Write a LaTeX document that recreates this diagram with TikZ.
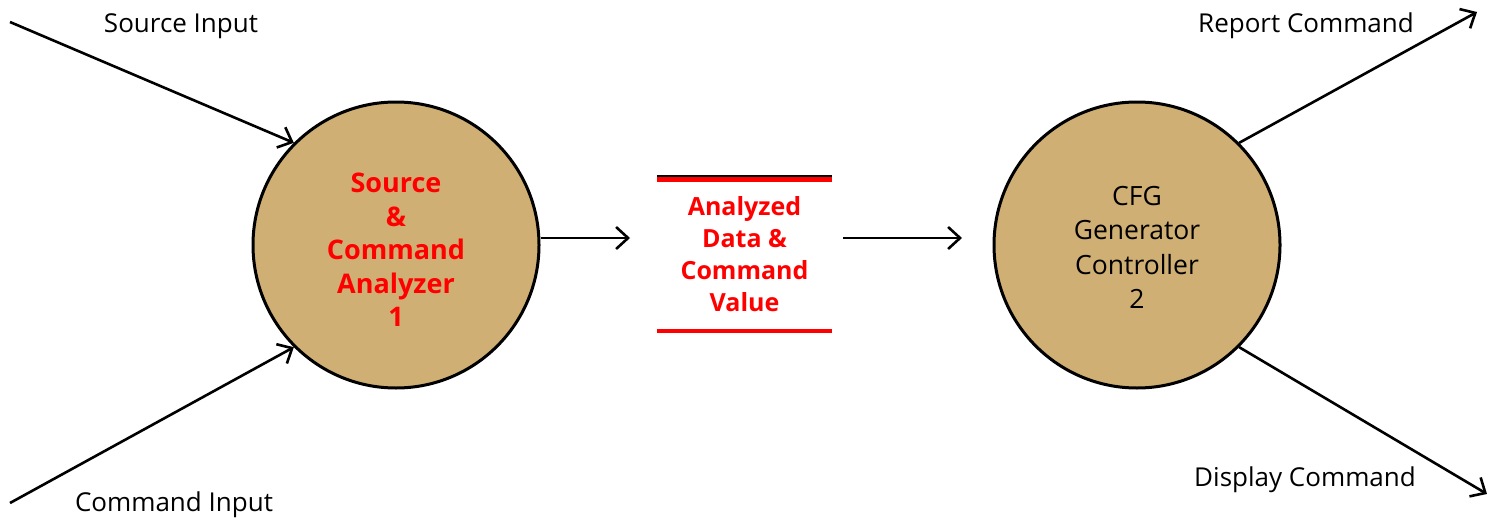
\documentclass[tikz,border=0pt]{standalone}
\usepackage{fontspec}
\setmainfont{Open Sans}
\usetikzlibrary{arrows.meta}
\definecolor{procfill}{RGB}{207,175,115}
\definecolor{hotred}{RGB}{255,0,0}
\begin{document}
\begin{tikzpicture}[x=1pt,y=-1pt,
  flow/.style={line width=2.6pt,-{Straight Barb[length=12pt,width=22pt,line width=2.6pt]}},
  process/.style={circle,draw=black,line width=3pt,fill=procfill,minimum size=286pt,inner sep=0pt},
  proclabel/.style={align=center,font=\fontsize{26.5}{34.5}\selectfont},
  hotlabel/.style={align=center,text=hotred,font=\bfseries\fontsize{27}{33.5}\selectfont},
  extlabel/.style={font=\fontsize{26}{30}\selectfont}]
\useasboundingbox (0,0) rectangle (1487,519);

% processes
\node[process] (c1) at (396,245) {};
\node[hotlabel] (t1) at (396,250) {Source\\\&\\Command\\Analyzer\\1};
\node[process] (c2) at (1137,245) {};
\node[proclabel] (t2) at (1137,247.5) {CFG\\Generator\\Controller\\2};

% data store
\node[minimum width=175pt,minimum height=153pt,inner sep=0pt] (ds) at (744.5,254.5) {};
\node[hotlabel,font=\bfseries\fontsize{25}{32}\selectfont] (dst) at (ds.center) {Analyzed\\Data \&\\Command\\Value};
\draw[line width=1.8pt] ([yshift=1.6pt]ds.north west) -- ([yshift=1.6pt]ds.north east);
\draw[hotred,line width=4.5pt] ([yshift=-1.6pt]ds.north west) -- ([yshift=-1.6pt]ds.north east);
\draw[hotred,line width=4.5pt] (ds.south west) -- (ds.south east);

% external ends
\coordinate (srcin) at (10,22);
\coordinate (cmdin) at (10,503);
\coordinate (repout) at (1477,12);
\coordinate (dispout) at (1487,494);
\coordinate (m1) at (630,238);
\coordinate (m2s) at (843,238);
\coordinate (m2e) at (962,238);

% flows
\draw[flow] (srcin) -- (c1.135);
\draw[flow] (cmdin) -- (c1.225);
\draw[flow] (c1.east |- m1) -- (m1);
\draw[flow] (m2s) -- (m2e);
\draw[flow] (c2.45) -- (repout);
\draw[flow] (c2.315) -- (dispout);

% flow labels
\node[extlabel] (lsrc) at (181,26) {Source Input};
\node[extlabel] (lcmd) at (174,505) {Command Input};
\node[extlabel] (lrep) at (1306,26) {Report Command};
\node[extlabel] (ldisp) at (1305,480) {Display Command};
\end{tikzpicture}
\end{document}
